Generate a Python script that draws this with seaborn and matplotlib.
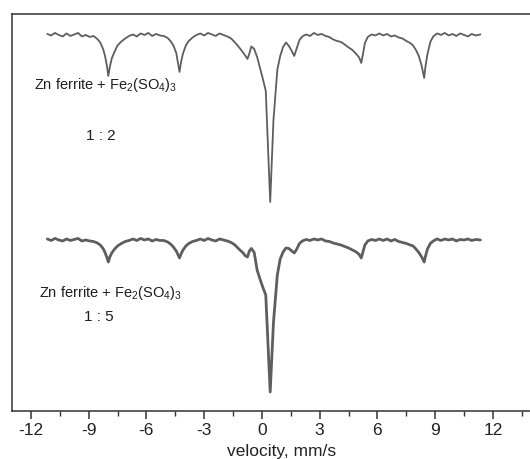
import numpy as np
import pandas as pd
import matplotlib
matplotlib.use("Agg")
import matplotlib.pyplot as plt
from matplotlib.ticker import MultipleLocator, FixedLocator
import seaborn as sns

# Doppler velocity of the source (mm/s)
velocity = [
    -11.15, -10.95, -10.75, -10.55, -10.35, -10.15, -9.95, -9.75, -9.55, -9.35, -9.15, -8.95, -8.75, -8.55,
    -8.4, -8.25, -8.15, -8.05, -7.98, -7.9, -7.8, -7.65, -7.5, -7.3, -7.1, -6.9,
    -6.7, -6.5, -6.3, -6.1, -5.9, -5.7, -5.5, -5.3, -5.1, -4.9,
    -4.75, -4.6, -4.45, -4.35, -4.28, -4.2, -4.1, -3.95, -3.8, -3.6, -3.4,
    -3.2, -3.0, -2.8, -2.6, -2.4, -2.2, -2.0, -1.8, -1.6,
    -1.4, -1.2, -1.0, -0.85, -0.75, -0.65, -0.55, -0.4, -0.25, -0.1, 0.05, 0.2,
    0.43, 0.6, 0.8, 0.95, 1.1, 1.25, 1.4, 1.55, 1.68, 1.8, 1.95, 2.1, 2.3,
    2.5, 2.7, 2.9, 3.1, 3.3, 3.5, 3.7, 3.9,
    4.1, 4.3, 4.5, 4.7, 4.9, 5.05, 5.16, 5.25, 5.35, 5.5, 5.7, 5.9,
    6.1, 6.3, 6.5, 6.7, 6.9, 7.1, 7.3, 7.5, 7.7,
    7.85, 8.0, 8.15, 8.3, 8.43, 8.5, 8.6, 8.75, 8.9, 9.1,
    9.3, 9.5, 9.7, 9.9, 10.1, 10.3, 10.5, 10.7, 10.9, 11.1, 11.35,
]

# Relative transmission, Zn ferrite + Fe2(SO4)3 at 1:2
trans_12 = [
    1.002, 0.999, 1.004, 1.000, 0.997, 1.003, 0.998, 1.001, 1.004, 0.997, 1.000, 0.996, 0.998, 0.992,
    0.985, 0.972, 0.958, 0.938, 0.918, 0.936, 0.953, 0.967, 0.979, 0.987, 0.993, 0.998,
    1.001, 0.997, 1.003, 1.000, 1.004, 0.998, 1.002, 0.999, 0.998, 0.994,
    0.988, 0.979, 0.964, 0.942, 0.926, 0.946, 0.963, 0.979, 0.988, 0.995, 1.000,
    1.003, 0.999, 1.004, 1.001, 0.998, 1.003, 1.000, 0.997, 0.993,
    0.985, 0.976, 0.966, 0.958, 0.952, 0.963, 0.977, 0.972, 0.956, 0.934, 0.912, 0.888,
    0.666, 0.830, 0.930, 0.958, 0.976, 0.985, 0.978, 0.968, 0.958, 0.972, 0.990, 0.997, 1.001,
    0.998, 1.004, 1.000, 1.002, 0.998, 0.996, 0.991, 0.988,
    0.986, 0.981, 0.975, 0.970, 0.962, 0.955, 0.944, 0.962, 0.984, 0.996, 1.001, 0.999,
    1.003, 0.999, 1.002, 0.997, 0.999, 0.995, 0.993, 0.988, 0.984,
    0.979, 0.970, 0.958, 0.938, 0.914, 0.938, 0.962, 0.986, 0.997, 1.003,
    1.000, 1.004, 0.999, 1.002, 0.998, 1.003, 1.000, 0.997, 1.002, 0.999, 1.001,
]

# Relative transmission, Zn ferrite + Fe2(SO4)3 at 1:5
trans_15 = [
    1.002, 0.999, 1.003, 1.000, 0.998, 1.002, 0.999, 1.001, 1.003, 0.998, 1.000, 0.998, 0.997, 0.994,
    0.990, 0.983, 0.975, 0.965, 0.956, 0.966, 0.974, 0.982, 0.988, 0.993, 0.997, 0.999,
    1.002, 0.999, 1.003, 1.000, 1.002, 0.998, 1.001, 0.999, 0.999, 0.996,
    0.992, 0.986, 0.978, 0.970, 0.964, 0.972, 0.980, 0.988, 0.993, 0.997, 0.999,
    1.002, 0.999, 1.003, 1.000, 0.998, 1.002, 1.000, 0.998, 0.995,
    0.990, 0.982, 0.975, 0.968, 0.966, 0.978, 0.983, 0.975, 0.940, 0.922, 0.905, 0.890,
    0.696, 0.835, 0.930, 0.962, 0.976, 0.984, 0.983, 0.978, 0.974, 0.981, 0.993, 0.998, 1.001,
    0.999, 1.002, 1.000, 1.002, 0.998, 0.997, 0.994, 0.992,
    0.990, 0.987, 0.984, 0.980, 0.976, 0.971, 0.964, 0.976, 0.990, 0.998, 1.001, 0.999,
    1.002, 0.999, 1.002, 0.998, 1.001, 0.997, 0.995, 0.993, 0.990,
    0.988, 0.982, 0.975, 0.966, 0.956, 0.968, 0.982, 0.993, 0.998, 1.002,
    0.999, 1.002, 1.000, 1.002, 0.998, 1.001, 1.000, 1.002, 0.999, 1.001, 1.000,
]

sample_label = r"Zn ferrite + Fe$\mathregular{_2}$(SO$\mathregular{_4}$)$\mathregular{_3}$"
ratio_labels = ["1 : 2", "1 : 5"]
velocity_ticks = [-12, -9, -6, -3, 0, 3, 6, 9, 12]

# vertical shift applied to the lower spectrum
stack_offset = 0.41

sns.set_style("ticks")
plt.rcParams["font.family"] = ["Liberation Sans", "DejaVu Sans"]
plt.rcParams["mathtext.fontset"] = "custom"
plt.rcParams["mathtext.rm"] = "Liberation Sans"
plt.rcParams["mathtext.it"] = "Liberation Sans:italic"
plt.rcParams["axes.unicode_minus"] = False

df = pd.DataFrame({
    "velocity": velocity,
    "t12": trans_12,
    "t15": np.array(trans_15) - stack_offset,
})

fig = plt.figure(figsize=(5.30, 4.59), dpi=100)
ax = fig.add_axes([0.022, 0.1046, 1.017, 0.865])

line_col = "#5e5e5e"
sns.lineplot(data=df, x="velocity", y="t12", ax=ax, sort=False,
             color=line_col, linewidth=1.3)
sns.lineplot(data=df, x="velocity", y="t15", ax=ax, sort=False,
             color=line_col, linewidth=2.0)

ax.set_xlim(-13, 15)
ax.set_ylim(0.248, 1.042)

ax.xaxis.set_major_locator(FixedLocator(velocity_ticks))
ax.xaxis.set_minor_locator(MultipleLocator(1.5))
ax.set_xticklabels([str(t) for t in velocity_ticks])
ax.set_yticks([])
ax.set_ylabel("")

spine_col = "#333333"
for side in ["left", "bottom", "top"]:
    ax.spines[side].set_visible(True)
    ax.spines[side].set_color(spine_col)
    ax.spines[side].set_linewidth(1.1)
ax.spines["right"].set_visible(False)

ax.tick_params(axis="x", which="major", direction="out", length=6, width=1.1,
               color=spine_col, labelsize=12.5, labelcolor="#222222", pad=3)
ax.tick_params(axis="x", which="minor", direction="out", length=3.5, width=1.0,
               color=spine_col)
ax.set_xlabel("velocity, mm/s", fontsize=12.5, color="#222222", labelpad=4)

txt_col = "#1e1e1e"
ax.text(0.041, 0.81, sample_label, transform=ax.transAxes, fontsize=10.5,
        color=txt_col, ha="left", va="baseline")
ax.text(0.138, 0.683, ratio_labels[0], transform=ax.transAxes, fontsize=11,
        color=txt_col, ha="left", va="baseline")
ax.text(0.050, 0.287, sample_label, transform=ax.transAxes, fontsize=10.5,
        color=txt_col, ha="left", va="baseline")
ax.text(0.135, 0.227, ratio_labels[1], transform=ax.transAxes, fontsize=11,
        color=txt_col, ha="left", va="baseline")

fig.savefig("out.png", dpi=100)
